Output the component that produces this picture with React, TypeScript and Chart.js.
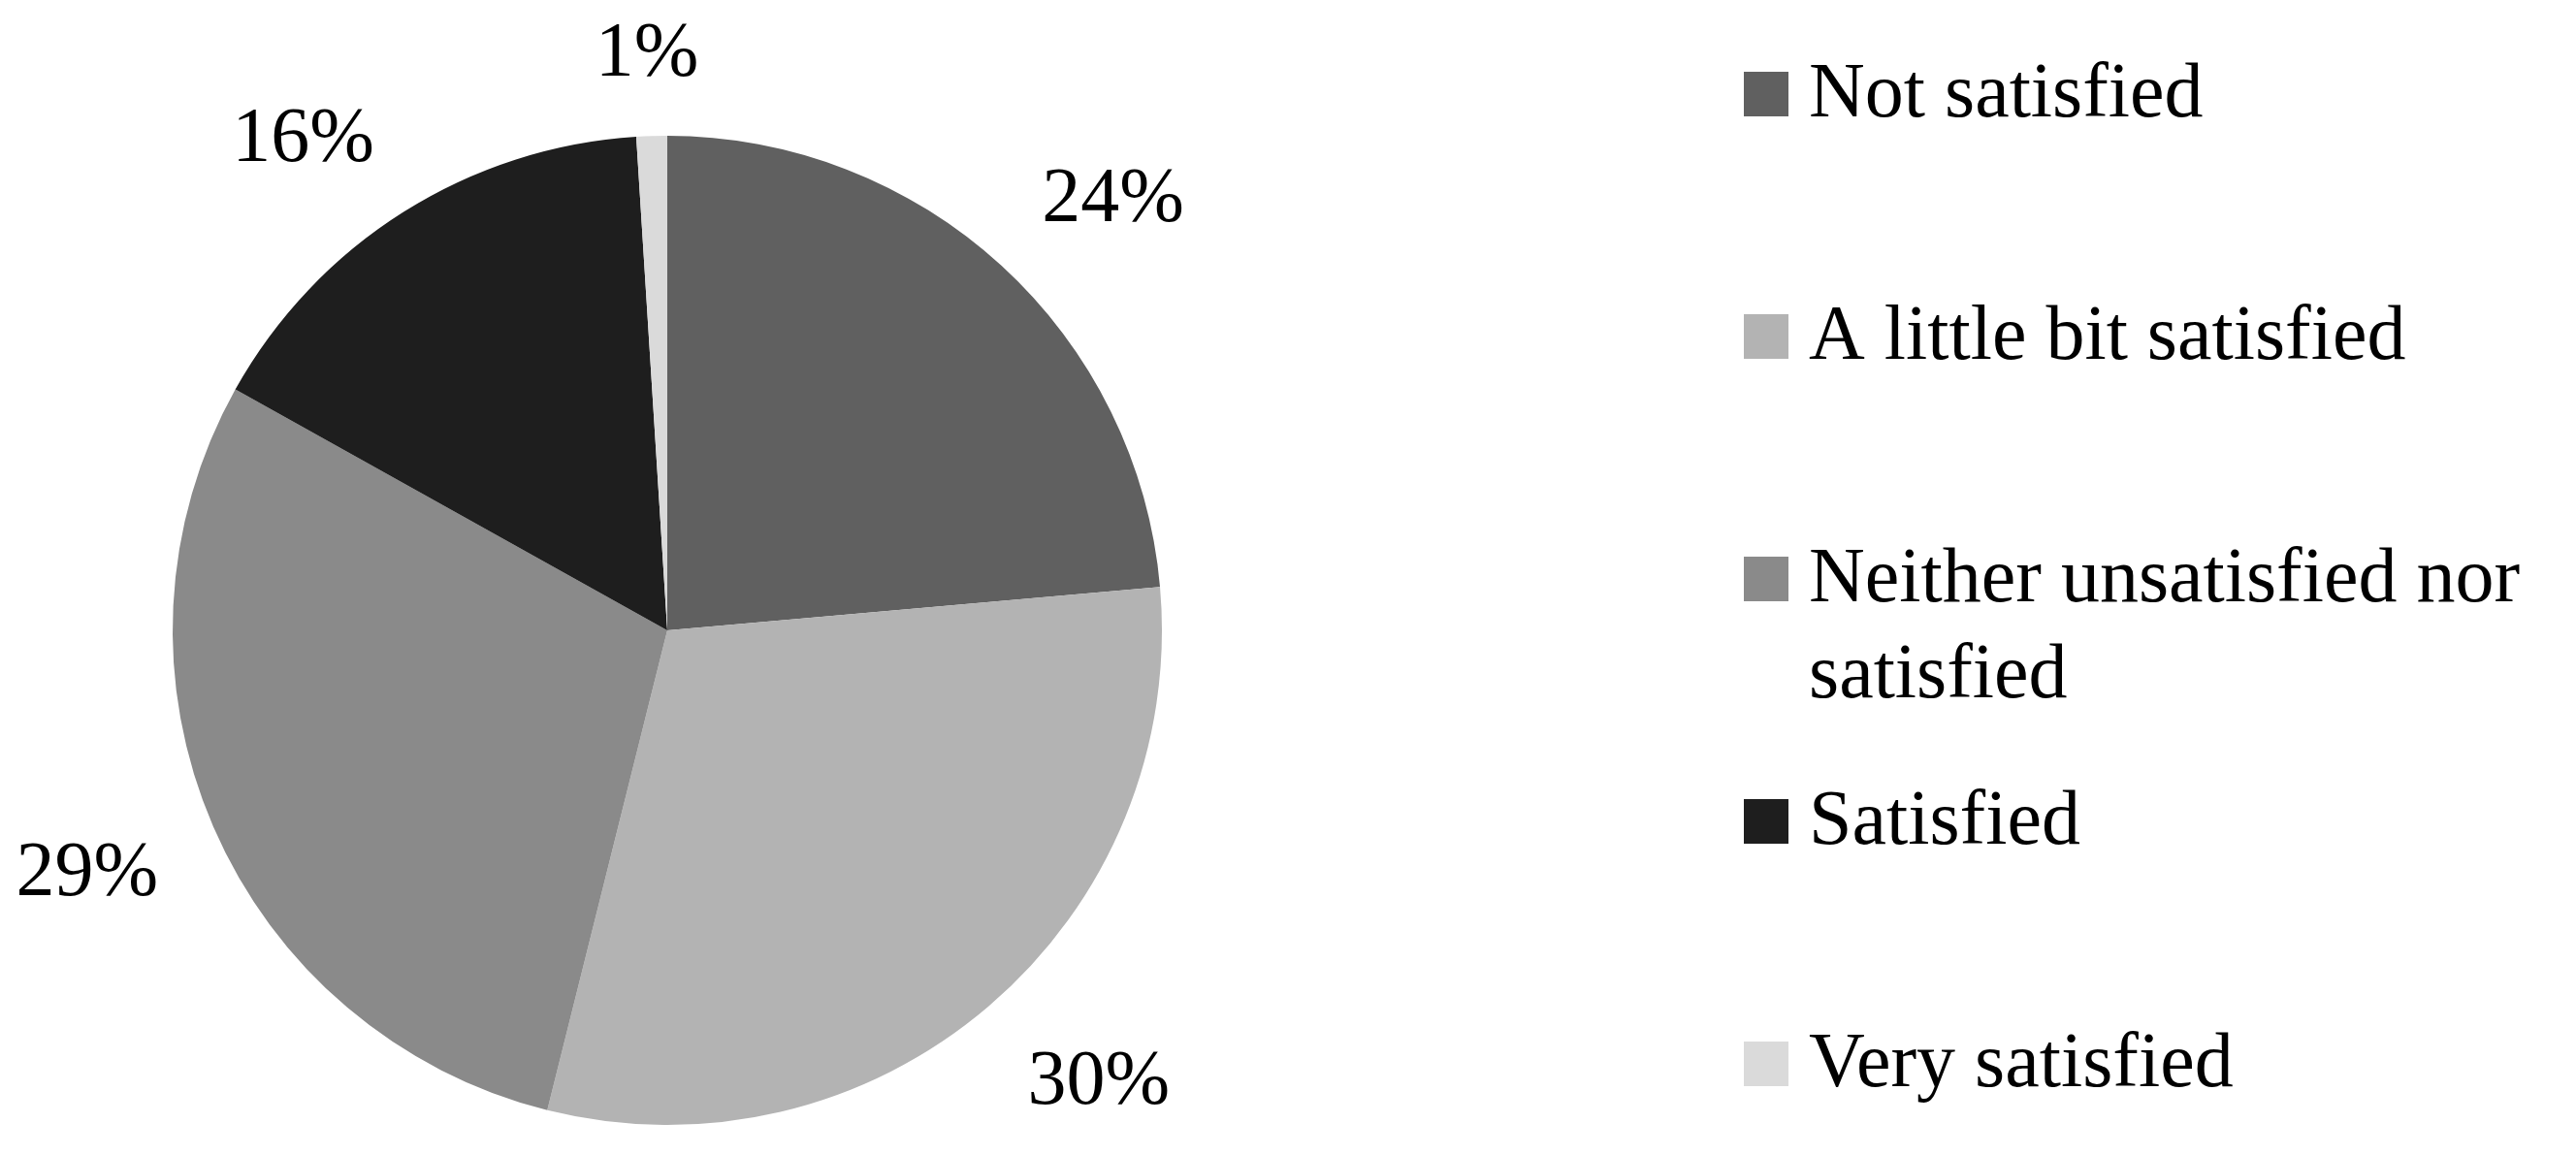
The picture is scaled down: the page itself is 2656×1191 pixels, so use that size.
import React, { useEffect, useRef } from "react";
import { Chart, registerables } from "chart.js";

Chart.register(...registerables);

const categories = [
  "Not satisfied",
  "A little bit satisfied",
  "Neither unsatisfied nor satisfied",
  "Satisfied",
  "Very satisfied",
];
const shares = [23.6, 30.3, 29.2, 15.9, 1.0];
const sliceColors = ["#606060", "#b3b3b3", "#8a8a8a", "#1e1e1e", "#dadada"];

const FONT = "80px 'Liberation Serif', 'Times New Roman', serif";
const CAP = 53;

const clamp1 = (v: number) => Math.max(-1, Math.min(1, v));

const pctLabels = {
  id: "pctLabels",
  afterDatasetsDraw(chart: any) {
    const ctx = chart.ctx;
    const meta = chart.getDatasetMeta(0);
    const data = chart.data.datasets[0].data as number[];
    ctx.save();
    ctx.font = FONT;
    ctx.fillStyle = "#000";
    ctx.textAlign = "center";
    ctx.textBaseline = "alphabetic";
    meta.data.forEach((arc: any, i: number) => {
      const p = arc.getProps(["x", "y", "startAngle", "endAngle", "outerRadius"], true);
      const mid = (p.startAngle + p.endAngle) / 2;
      const dx = Math.cos(mid);
      const dy = Math.sin(mid);
      const text = Math.round(data[i]) + "%";
      const w = ctx.measureText(text).width;
      const g = 62;
      const k = 1.8;
      const cx = p.x + dx * (p.outerRadius + g) + clamp1(dx * k) * (w / 2);
      const cy = p.y + dy * (p.outerRadius + g) + clamp1(dy * k) * (CAP / 2);
      ctx.fillText(text, cx, cy + CAP / 2);
    });
    ctx.restore();
  },
};

const sideLegend = {
  id: "sideLegend",
  afterDraw(chart: any) {
    const ctx = chart.ctx;
    const labels = chart.data.labels as string[];
    const colors = chart.data.datasets[0].backgroundColor as string[];
    const boxX = 1798;
    const box = 46;
    const textX = 1865;
    const maxW = 2656 - textX - 4;
    const firstBase = 120;
    const step = 250;
    const lineH = 99;
    ctx.save();
    ctx.font = FONT;
    ctx.textAlign = "left";
    ctx.textBaseline = "alphabetic";
    labels.forEach((lab, i) => {
      const base = firstBase + i * step;
      ctx.fillStyle = colors[i];
      ctx.fillRect(boxX, base - box, box, box);
      ctx.fillStyle = "#000";
      const words = lab.split(" ");
      const lines: string[] = [];
      let cur = "";
      words.forEach((wd) => {
        const t = cur ? cur + " " + wd : wd;
        if (ctx.measureText(t).width > maxW && cur) {
          lines.push(cur);
          cur = wd;
        } else cur = t;
      });
      if (cur) lines.push(cur);
      lines.forEach((ln, k) => ctx.fillText(ln, textX, base + k * lineH));
    });
    ctx.restore();
  },
};

export default function App() {
  const ref = useRef<HTMLCanvasElement | null>(null);
  useEffect(() => {
    if (!ref.current) return;
    const chart = new Chart(ref.current, {
      type: "pie",
      data: {
        labels: categories,
        datasets: [
          {
            data: shares,
            backgroundColor: sliceColors,
            borderWidth: 0,
          },
        ],
      },
      options: {
        responsive: false,
        animation: false,
        devicePixelRatio: 1,
        layout: { padding: { top: 140, bottom: 31, left: 178, right: 1458 } },
        plugins: { legend: { display: false }, tooltip: { enabled: false } },
      },
      plugins: [pctLabels, sideLegend],
    });
    return () => chart.destroy();
  }, []);
  return (
    <div style={{ position: "absolute", left: 0, top: 0, width: 2656, height: 1191, background: "#fff" }}>
      <canvas ref={ref} width={2656} height={1191} style={{ width: 2656, height: 1191 }} />
    </div>
  );
}
